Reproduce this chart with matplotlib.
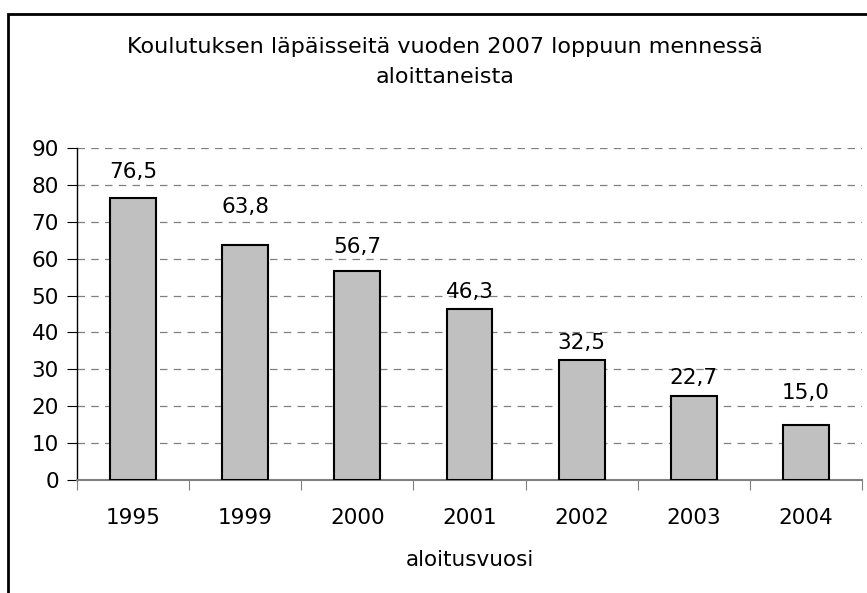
import matplotlib.pyplot as plt
import numpy as np
from matplotlib.patches import Rectangle

years = ['1995', '1999', '2000', '2001', '2002', '2003', '2004']
values = [76.5, 63.8, 56.7, 46.3, 32.5, 22.7, 15.0]
yticks = [0, 10, 20, 30, 40, 50, 60, 70, 80, 90]
# how far (px) each value label sits above its bar, as placed in the original
label_lift = [26, 38, 24, 17, 17, 18, 32]

plt.rcParams['font.family'] = ['DejaVu Sans']
fs = 15.5

fig = plt.figure(figsize=(8.67, 5.93), dpi=100)
ax = fig.add_axes([77 / 867, 1 - 480 / 593, 785 / 867, 332 / 593])

x = np.arange(len(years))
ax.bar(x, values, width=0.41, color='#c0c0c0', edgecolor='black', linewidth=1.5, zorder=3)

for xi, v, lift in zip(x, values, label_lift):
    ax.annotate(f'{v:.1f}'.replace('.', ','), (xi, v), xytext=(0, lift * 0.72),
                textcoords='offset points', ha='center', va='center', fontsize=fs)

ax.set_xlim(-0.5, len(years) - 0.5)
ax.set_ylim(0, 90)
ax.set_yticks(yticks)
ax.set_yticklabels([str(t) for t in yticks], fontsize=fs)
ax.yaxis.grid(True, linestyle=(0, (6, 5)), color='#808080', linewidth=0.9, zorder=0)

# ticks between the categories, labels in the middle
ax.set_xticks(np.arange(len(years) + 1) - 0.5)
ax.set_xticklabels([])
ax.set_xticks(x, minor=True)
ax.set_xticklabels(years, minor=True, fontsize=fs)
ax.tick_params(axis='x', which='minor', length=0, pad=20)
ax.tick_params(axis='x', which='major', length=7, color='#808080', direction='out')
ax.tick_params(axis='y', length=7, direction='out', pad=6)

for s in ['top', 'right']:
    ax.spines[s].set_visible(False)
ax.spines['bottom'].set_color('#808080')
ax.spines['bottom'].set_linewidth(1.5)
ax.spines['left'].set_linewidth(1.0)

ax.set_xlabel('aloitusvuosi', fontsize=fs, labelpad=16)

fig.text(445 / 867, 1 - 47 / 593, 'Koulutuksen läpäisseitä vuoden 2007 loppuun mennessä',
         ha='center', va='center', fontsize=16)
fig.text(445 / 867, 1 - 77 / 593, 'aloittaneista', ha='center', va='center', fontsize=16)

# outer frame (right and bottom edges fall outside the picture)
fig.patches.append(Rectangle((8 / 867, -0.1), 1.1, 1 - 14 / 593 + 0.1, transform=fig.transFigure,
                             fill=False, edgecolor='black', linewidth=2))

fig.savefig('out.png', dpi=100)
